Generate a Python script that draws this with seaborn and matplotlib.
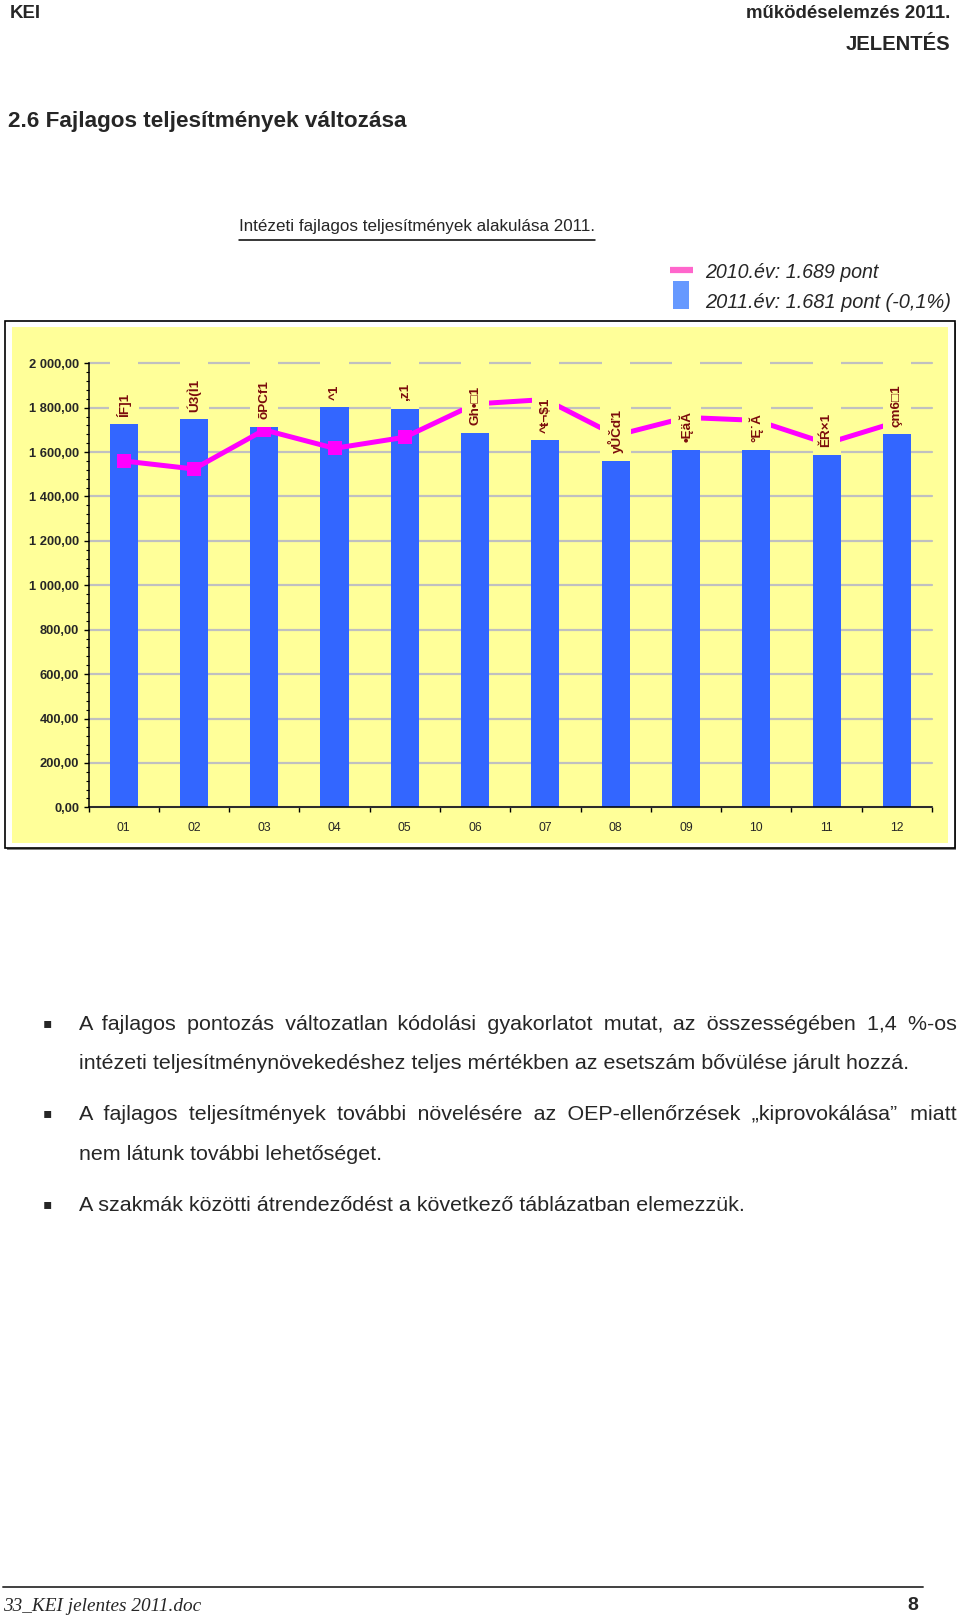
import numpy as np
import pandas as pd
import matplotlib
matplotlib.use("Agg")
import matplotlib.pyplot as plt
import seaborn as sns
from matplotlib.patches import Rectangle
from matplotlib.lines import Line2D

# ---------------- data ----------------
categories = ["01", "02", "03", "04", "05", "06", "07", "08", "09", "10", "11", "12"]
values_2011 = [1725, 1748, 1713, 1802, 1796, 1686, 1653, 1560, 1609, 1609, 1588, 1680]
values_2010 = [1560, 1524, 1700, 1617, 1667, 1817, 1837, 1675, 1756, 1743, 1639, 1736]
bar_labels = ["ĺF]1", "Ú3(Ì1", "õPCf1", "^1", ",z1", "Gh•\u25a11", "^ŧ¬$1",
              "yŮČď1", "•ĘäĂ", "°Ę˙Ă", "ĚŔ×1", "çm6\u25a11"]
y_ticks = [0, 200, 400, 600, 800, 1000, 1200, 1400, 1600, 1800, 2000]
y_tick_labels = ["0,00", "200,00", "400,00", "600,00", "800,00", "1 000,00",
                 "1 200,00", "1 400,00", "1 600,00", "1 800,00", "2 000,00"]
legend_labels = ["2010.év: 1.689 pont", "2011.év: 1.681 pont (-0,1%)"]
chart_title = "Intézeti fajlagos teljesítmények alakulása 2011."
section_title = "2.6 Fajlagos teljesítmények változása"
header_left = "KEI"
header_right = ["működéselemzés 2011.", "JELENTÉS"]
body_lines = [
    ("A fajlagos pontozás változatlan kódolási gyakorlatot mutat, az összességében 1,4 %-os", True, True),
    ("intézeti teljesítménynövekedéshez teljes mértékben az esetszám bővülése járult hozzá.", False, False),
    ("A fajlagos teljesítmények további növelésére az OEP-ellenőrzések „kiprovokálása” miatt", True, True),
    ("nem látunk további lehetőséget.", False, False),
    ("A szakmák közötti átrendeződést a következő táblázatban elemezzük.", True, False),
]
footer_left = "33_KEI jelentes 2011.doc"
footer_right = "8"

# ---------------- style ----------------
W, H = 960, 1617
BG = "#FFFF99"
BAR = "#3366FF"
LINE = "#FF00FF"
LABEL = "#7B0C0C"
SANS = ["Liberation Sans", "DejaVu Sans"]

sns.set_theme(style="white")
plt.rcParams["font.family"] = SANS

fig = plt.figure(figsize=(W / 100, H / 100), dpi=100, facecolor="white")
renderer = fig.canvas.get_renderer()


def fx(x):
    return x / W


def fy(y):
    return 1 - y / H


def tw(s, **kw):
    t = fig.text(0, 0, s, **kw)
    w = t.get_window_extent(renderer=renderer).width
    t.remove()
    return w


def ftext(x, y, s, target_w=None, **kw):
    t = fig.text(fx(x), fy(y), s, **kw)
    if target_w is not None:
        w = t.get_window_extent(renderer=renderer).width
        t.set_fontsize(t.get_fontsize() * target_w / w)
    return t


# ---------------- header ----------------
ftext(10, 13, header_left, target_w=31, fontsize=14, fontweight="bold", ha="left", va="center")
ftext(950, 13, header_right[0], target_w=205, fontsize=14, fontweight="bold", ha="right", va="center")
ftext(950, 45, header_right[1], target_w=105, fontsize=14, fontweight="bold", ha="right", va="center")
ftext(8, 122, section_title, target_w=397, fontsize=16, fontweight="bold", ha="left", va="center")

# ---------------- chart frame ----------------
fig.add_artist(Rectangle((fx(7), fy(850)), (956 - 7) / W, (850 - 323) / H, transform=fig.transFigure,
                         facecolor="#808080", edgecolor="none", zorder=0))
fig.add_artist(Rectangle((fx(5), fy(848)), (955 - 5) / W, (848 - 321) / H, transform=fig.transFigure,
                         facecolor="white", edgecolor="black", lw=1.2, zorder=0.1))
fig.add_artist(Rectangle((fx(12), fy(843)), (948 - 12) / W, (843 - 327) / H, transform=fig.transFigure,
                         facecolor=BG, edgecolor="none", zorder=0.2))

# title with underline
tt = ftext(239, 227, chart_title, target_w=356, fontsize=16, ha="left", va="center")
bb = tt.get_window_extent(renderer=renderer)
fig.add_artist(Line2D([bb.x0 / W, bb.x1 / W], [fy(240), fy(240)], transform=fig.transFigure,
                      color="black", lw=1.1))

# legend
fig.add_artist(Line2D([fx(670), fx(693)], [fy(270), fy(270)], transform=fig.transFigure,
                      color="#FF66CC", lw=4.5, solid_capstyle="butt"))
fig.add_artist(Rectangle((fx(673), fy(309)), 16 / W, 28 / H, transform=fig.transFigure,
                         facecolor="#6699FF", edgecolor="none"))
ftext(705, 272, legend_labels[0], target_w=173, fontsize=13, style="italic", ha="left", va="center")
ftext(705, 302, legend_labels[1], target_w=245, fontsize=13, style="italic", ha="left", va="center")

# ---------------- axes ----------------
ax_left, ax_right, ax_top, ax_bottom = 88.5, 932, 363.3, 807.3
ax = fig.add_axes([fx(ax_left), fy(ax_bottom), (ax_right - ax_left) / W, (ax_bottom - ax_top) / H])
ax.set_facecolor("none")
ax.set_zorder(1)

df = pd.DataFrame({"cat": categories, "v2011": values_2011, "v2010": values_2010})

sns.barplot(data=df, x="cat", y="v2011", color=BAR, saturation=1, width=0.4,
            edgecolor="none", linewidth=0, ax=ax, zorder=2)
# background columns above bars (gridline gaps as in the reference)
ax.bar(np.arange(len(categories)), [2010 - v for v in values_2011], bottom=values_2011, width=0.4,
       color=BG, edgecolor="none", linewidth=0, zorder=1.5, clip_on=False)
sns.pointplot(data=df, x="cat", y="v2010", color=LINE, markers="s", linestyles="-",
              errorbar=None, ax=ax, markersize=10.4, linewidth=3.6, markeredgewidth=0, zorder=3)

for i, (v, lab) in enumerate(zip(values_2011, bar_labels)):
    ax.annotate(lab, xy=(i, v), xytext=(0, 5.5), textcoords="offset points", rotation=90,
                ha="center", va="bottom", fontsize=9.7, fontweight="bold", color=LABEL,
                family=SANS,
                bbox=dict(boxstyle="square,pad=0.55", fc=BG, ec="none"),
                zorder=5, annotation_clip=False)

ax.set_xlim(-0.5, len(categories) - 0.5)
ax.set_ylim(0, 2000)
ax.set_xlabel("")
ax.set_ylabel("")

ax.set_xticks(np.arange(-0.5, len(categories), 1.0))
ax.set_xticklabels([])
ax.set_xticks(np.arange(len(categories)), minor=True)
ax.set_xticklabels(categories, minor=True, fontsize=8.8)
ax.tick_params(axis="x", which="major", length=3.6, width=1, direction="out", color="black", bottom=True)
ax.tick_params(axis="x", which="minor", length=0, pad=10.5, bottom=True)

ax.set_yticks(y_ticks)
ax.set_yticklabels(y_tick_labels, fontsize=9.3, fontweight="bold")
ax.set_yticks(np.arange(0, 2001, 40), minor=True)
ax.tick_params(axis="y", which="major", length=3.6, width=1, direction="out", color="black", pad=3, left=True)
ax.tick_params(axis="y", which="minor", length=2, width=0.8, direction="out", color="black", left=True)

ax.yaxis.grid(True, which="major", color="#C0C0C0", linewidth=1.6)
ax.xaxis.grid(False)
ax.set_axisbelow(True)
for gl in ax.yaxis.get_gridlines():
    gl.set_clip_on(False)

for side in ["top", "right"]:
    ax.spines[side].set_visible(False)
for side in ["left", "bottom"]:
    ax.spines[side].set_color("black")
    ax.spines[side].set_linewidth(1.1)
    ax.spines[side].set_zorder(6)

# ---------------- body text ----------------
body_y = [1024, 1063, 1114.5, 1154, 1205]
x0, x1 = 79, 957
body_fs = 14 * 836 / tw(body_lines[1][0], fontsize=14)
HAIR = "\u200a"
hair_w = (tw("x" + HAIR * 20 + "x", fontsize=body_fs) - tw("xx", fontsize=body_fs)) / 20


def justify(line, target):
    words = line.split(" ")
    gaps = len(words) - 1
    natural = tw(line, fontsize=body_fs)
    n_extra = max(0, int(round((target - natural) / hair_w))) if hair_w > 0 else 0
    s = words[0]
    for k in range(gaps):
        cnt = (n_extra * (k + 1)) // gaps - (n_extra * k) // gaps
        s += " " + HAIR * cnt + words[k + 1]
    return s


for (line, bullet, just), y in zip(body_lines, body_y):
    if bullet:
        ftext(47, y - 1, "\u25aa", fontsize=10, family=["DejaVu Sans"], ha="center", va="center")
    s = justify(line, x1 - x0) if just else line
    ftext(x0, y, s, fontsize=body_fs, ha="left", va="center")

# ---------------- footer ----------------
fig.add_artist(Line2D([fx(3), fx(923)], [fy(1587), fy(1587)], transform=fig.transFigure,
                      color="#404040", lw=1.4))
ftext(3, 1606, footer_left, target_w=198, fontsize=12, family=["Liberation Serif"], style="italic",
      ha="left", va="center")
ftext(918, 1605, footer_right, fontsize=14, fontweight="bold", ha="right", va="center")

fig.savefig("out.png", dpi=100, facecolor="white")
